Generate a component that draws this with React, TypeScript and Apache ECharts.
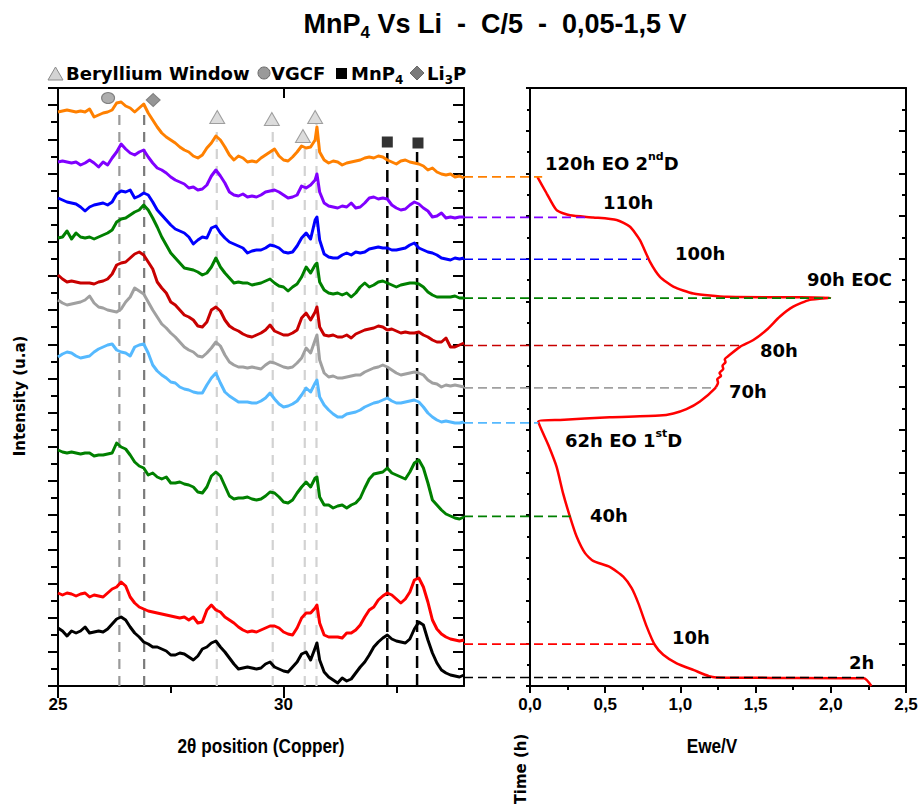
import React, { useEffect, useRef } from "react";
import * as echarts from "echarts";

// 2θ sampling positions (Copper radiation), degrees
const twoTheta = [
  25.0, 25.1, 25.2, 25.3, 25.4, 25.5, 25.6, 25.7, 25.8, 25.9,
  26.0, 26.1, 26.2, 26.3, 26.4, 26.5, 26.6, 26.7, 26.8, 26.9,
  27.0, 27.1, 27.2, 27.3, 27.4, 27.5, 27.6, 27.7, 27.8, 27.9,
  28.0, 28.1, 28.2, 28.3, 28.4, 28.5, 28.6, 28.7, 28.8, 28.9,
  29.0, 29.1, 29.2, 29.3, 29.4, 29.5, 29.6, 29.7, 29.8, 29.9,
  30.0, 30.1, 30.2, 30.3, 30.4, 30.5, 30.6, 30.7, 30.74, 30.8,
  30.9, 31.0, 31.1, 31.2, 31.3, 31.4, 31.5, 31.6, 31.7, 31.8,
  31.9, 32.0, 32.1, 32.2, 32.3, 32.4, 32.5, 32.6, 32.7, 32.8,
  32.9, 33.0, 33.1, 33.2, 33.3, 33.4, 33.5, 33.6, 33.7, 33.8,
  33.9, 34.0,
];

// Offset XRD intensities (a.u.), one array per time step
const xrd120h = [
  574, 575, 576, 575, 574, 575, 574, 577, 569, 571,
  573, 574, 576, 583, 584, 580, 578, 574, 578, 582,
  573, 566, 559, 553, 549, 546, 543, 539, 536, 534,
  530, 528, 531, 538, 543, 550, 546, 539, 531, 526,
  530, 528, 524, 525, 524, 528, 531, 534, 537, 530,
  526, 525, 529, 534, 540, 538, 539, 546, 559, 534,
  526, 523, 525, 524, 521, 523, 524, 525, 526, 528,
  529, 528, 530, 529, 526, 524, 522, 525, 526, 524,
  523, 522, 520, 516, 518, 514, 512, 511, 512, 509,
  510, 508,
];
const xrd110h = [
  524, 525, 524, 523, 524, 521, 523, 526, 523, 519,
  524, 521, 528, 534, 542, 537, 533, 531, 534, 536,
  529, 523, 518, 516, 513, 509, 506, 504, 502, 498,
  499, 496, 497, 501, 510, 516, 510, 503, 494, 491,
  490, 492, 489, 490, 489, 491, 494, 495, 496, 494,
  491, 488, 489, 491, 500, 498, 501, 506, 512, 494,
  483, 480, 479, 478, 480, 479, 483, 478, 479, 483,
  488, 489, 487, 488, 487, 481, 478, 476, 477, 481,
  484, 482, 478, 475, 469, 470, 473, 468, 469, 468,
  469, 469,
];
const xrd100h = [
  488, 486, 484, 483, 482, 479, 475, 479, 481, 482,
  483, 481, 484, 492, 495, 494, 496, 488, 490, 493,
  491, 484, 476, 471, 466, 461, 457, 455, 453, 449,
  442, 446, 449, 448, 458, 460, 453, 448, 444, 442,
  440, 438, 433, 435, 436, 436, 438, 441, 440, 438,
  434, 433, 434, 440, 448, 453, 447, 466, 469, 446,
  432, 429, 428, 428, 431, 433, 431, 434, 433, 434,
  437, 438, 439, 438, 438, 436, 436, 437, 438, 441,
  443, 438, 436, 434, 433, 431, 428, 427, 426, 428,
  427, 428,
];
const xrd90h = [
  448, 449, 455, 447, 453, 449, 448, 449, 447, 449,
  451, 453, 456, 464, 467, 468, 471, 474, 476, 481,
  476, 468, 459, 449, 441, 433, 428, 423, 418, 417,
  416, 414, 411, 413, 419, 428, 419, 413, 408, 403,
  404, 403, 403, 401, 402, 403, 405, 407, 403, 400,
  399, 395, 399, 402, 409, 419, 413, 421, 423, 404,
  396, 393, 392, 393, 391, 393, 389, 393, 399, 403,
  399, 401, 404, 405, 403, 401, 399, 401, 402, 403,
  403, 402, 399, 394, 391, 389, 389, 389, 389, 390,
  388, 388,
];
const xrd80h = [
  411, 407, 404, 405, 404, 403, 403, 403, 402, 404,
  405, 407, 412, 421, 423, 424, 428, 432, 434, 431,
  424, 417, 404, 398, 393, 384, 381, 376, 371, 369,
  366, 360, 359, 364, 376, 379, 375, 366, 360, 357,
  355, 352, 350, 349, 351, 353, 356, 361, 355, 353,
  351, 351, 353, 356, 368, 373, 366, 374, 379, 359,
  351, 350, 351, 349, 349, 351, 348, 352, 354, 356,
  357, 358, 360, 359, 356, 357, 355, 353, 354, 353,
  353, 354, 351, 349, 346, 344, 344, 348, 339, 339,
  341, 343,
];
const xrd70h = [
  386, 383, 381, 382, 383, 384, 386, 390, 383, 379,
  378, 376, 375, 374, 377, 384, 389, 398, 395, 392,
  384, 376, 369, 362, 358, 353, 349, 344, 339, 336,
  334, 330, 329, 333, 338, 344, 340, 331, 324, 321,
  319, 319, 318, 319, 318, 317, 321, 324, 323, 321,
  319, 318, 319, 323, 328, 338, 333, 346, 351, 326,
  313, 309, 310, 308, 308, 309, 310, 311, 311, 314,
  316, 318, 319, 321, 319, 316, 313, 311, 312, 313,
  314, 313, 311, 306, 303, 302, 299, 301, 300, 301,
  300, 299,
];
const xrd62h = [
  329, 332, 334, 333, 330, 328, 329, 330, 334, 337,
  339, 341, 342, 336, 334, 333, 330, 339, 341, 342,
  333, 321, 315, 311, 308, 304, 303, 299, 297, 296,
  294, 293, 293, 301, 308, 313, 303, 294, 290, 287,
  284, 284, 284, 283, 283, 285, 288, 293, 287, 282,
  279, 280, 282, 285, 291, 298, 294, 303, 306, 289,
  281, 276, 272, 269, 269, 272, 273, 274, 276, 279,
  281, 283, 284, 286, 288, 285, 283, 283, 284, 285,
  286, 284, 279, 273, 269, 266, 264, 265, 264, 263,
  263, 264,
];
const xrd40h = [
  236, 234, 233, 234, 233, 232, 233, 233, 230, 231,
  231, 232, 233, 243, 239, 237, 231, 224, 220, 218,
  211, 213, 209, 207, 209, 203, 203, 204, 202, 201,
  199, 194, 193, 199, 210, 214, 210, 200, 190, 187,
  188, 188, 189, 187, 186, 187, 190, 194, 193, 189,
  184, 183, 186, 193, 199, 204, 199, 208, 209, 189,
  181, 181, 178, 180, 181, 178, 181, 183, 188, 198,
  207, 212, 213, 214, 218, 213, 211, 209, 207, 214,
  223, 226, 218, 203, 186, 181, 176, 172, 170, 168,
  167, 169,
];
const xrd10h = [
  93, 91, 93, 92, 90, 92, 93, 89, 91, 90,
  89, 93, 97, 99, 104, 100, 89, 83, 79, 77,
  75, 74, 73, 72, 71, 70, 69, 68, 69, 66,
  69, 63, 64, 76, 81, 76, 74, 69, 66, 63,
  59, 56, 54, 55, 54, 56, 58, 60, 60, 58,
  54, 52, 51, 58, 68, 73, 73, 78, 81, 63,
  51, 49, 49, 49, 48, 53, 53, 56, 61, 69,
  76, 79, 86, 90, 93, 91, 87, 83, 87, 94,
  106, 108, 99, 84, 66, 57, 52, 49, 47, 46,
  45, 46,
];
const xrd2h = [
  58, 55, 50, 55, 53, 55, 59, 53, 54, 55,
  54, 57, 62, 67, 69, 66, 59, 53, 49, 44,
  42, 39, 39, 37, 35, 31, 31, 33, 32, 29,
  26, 30, 37, 39, 43, 45, 39, 34, 28, 22,
  17, 18, 19, 18, 17, 18, 22, 24, 19, 17,
  15, 14, 19, 24, 32, 34, 26, 38, 43, 26,
  14, 9, 6, 3, 8, 5, 7, 13, 19, 24,
  31, 39, 44, 48, 51, 47, 45, 44, 43, 47,
  57, 64, 61, 46, 33, 23, 16, 13, 11, 10,
  9, 11,
];

const xrdPatterns = [xrd120h, xrd110h, xrd100h, xrd90h, xrd80h, xrd70h, xrd62h, xrd40h, xrd10h, xrd2h];
const patternLabels = ["120h", "110h", "100h", "90h", "80h", "70h", "62h", "40h", "10h", "2h"];
const patternColors = ["#FF8000", "#8000FF", "#0000FF", "#008000", "#C80000", "#A0A0A0", "#55B9FF", "#008000", "#FF0000", "#000000"];

// time (h) of each pattern on the galvanostatic curve, and Ewe at that time
const patternTimes = [119.2, 109.7, 99.9, 90.8, 79.7, 69.8, 61.6, 39.7, 9.8, 2.0];
const patternEwe = [0.08, 0.37, 0.78, 2.0, 1.4, 1.24, 0.055, 0.27, 0.83, 2.22];
const connectorStartEwe = -0.44;

// Galvanostatic curve: Ewe (V) vs time (h)
const ecTime = [
  0, 1.8, 1.9, 2.0, 2.3, 3.7, 5.3, 7.3, 9.6, 13.9,
  19.4, 22.9, 25.6, 27.9, 29.3, 31.1, 35, 39.6, 45.1, 51.3,
  56.4, 61.9, 62.3, 62.9, 63.3, 63.8, 64.8, 66.6, 69.7, 71.0,
  71.8, 72.6, 73.3, 74.2, 75.0, 75.8, 76.5, 77.3, 79.4, 81,
  83.4, 86.5, 88.8, 90.4, 90.9, 91.0, 91.1, 91.9, 93.5, 95.8,
  99.3, 104.4, 107.5, 109.1, 109.7, 110.2, 111.4, 115.3, 119.2,
];
const ecVoltage = [
  2.27, 2.22, 1.6, 1.24, 1.19, 1.09, 0.975, 0.886, 0.83, 0.776,
  0.72, 0.676, 0.62, 0.53, 0.42, 0.366, 0.31, 0.266, 0.22, 0.177,
  0.122, 0.055, 0.2, 0.53, 0.86, 0.953, 1.04, 1.13, 1.23, 1.25,
  1.245, 1.27, 1.26, 1.285, 1.28, 1.3, 1.295, 1.32, 1.396, 1.485,
  1.574, 1.662, 1.75, 1.86, 1.995, 1.75, 1.31, 1.086, 0.953, 0.864,
  0.798, 0.731, 0.665, 0.576, 0.42, 0.266, 0.177, 0.111, 0.049,
];

// Reference reflection lines (2θ) and their heights
const refLinePos = [26.36, 26.91, 28.52, 29.76, 30.47, 30.73, 32.3, 32.96];
const refLineTop = [573, 574, 561, 562, 544, 562, 533, 534];
const refLineColors = ["#9a9a9a", "#7a7a7a", "#d2d2d2", "#d2d2d2", "#d2d2d2", "#d2d2d2", "#000000", "#000000"];

// Phase markers [2θ, height]
const vgcfMarks = [[26.11, 588]];
const li3pMarks = [[27.11, 586]];
const berylliumMarks = [[28.53, 569], [29.74, 567], [30.43, 550], [30.7, 569]];
const mnp4Marks = [[32.3, 544], [32.98, 543]];

// Axis ticks
const twoThetaMajorTicks = [25, 30];
const twoThetaMinorTicks = [27.5, 32.5];

function buildOption() {
  const DV = "'DejaVu Sans', sans-serif";
  const LIB = "'Liberation Sans', Arial, sans-serif";
  const tickSize = 17;
  const black = "#000";
  const tickLine = { color: black, width: 2 };
  const axLine = { show: true, onZero: false, lineStyle: { color: black, width: 2 } };

  const series: any[] = [];

  refLinePos.forEach((p, k) => {
    series.push({
      type: "line",
      xAxisIndex: 0,
      yAxisIndex: 0,
      data: [[p, 0], [p, refLineTop[k]]],
      symbol: "none",
      silent: true,
      z: 1,
      lineStyle: { color: refLineColors[k], width: k >= 6 ? 2.5 : 2.2, type: k >= 6 ? [12, 6] : [10, 7] },
    });
  });

  xrdPatterns.forEach((vals, k) => {
    series.push({
      type: "line",
      name: patternLabels[k],
      xAxisIndex: 0,
      yAxisIndex: 0,
      symbol: "none",
      z: 3,
      data: twoTheta.map((t, i) => [t, vals[i]]),
      lineStyle: { color: patternColors[k], width: 3, join: "round" },
    });
  });

  series.push(
    {
      type: "scatter", xAxisIndex: 0, yAxisIndex: 0, data: vgcfMarks, symbol: "circle",
      symbolSize: [13, 11], z: 6, clip: false,
      itemStyle: { color: "#9a9a9a", borderColor: "#6a6a6a", borderWidth: 1 },
    },
    {
      type: "scatter", xAxisIndex: 0, yAxisIndex: 0, data: li3pMarks, symbol: "diamond",
      symbolSize: [14, 13], z: 6, clip: false,
      itemStyle: { color: "#7a7a7a", borderColor: "#6a6a6a", borderWidth: 1 },
    },
    {
      type: "scatter", xAxisIndex: 0, yAxisIndex: 0, data: berylliumMarks, symbol: "triangle",
      symbolSize: [15, 13], z: 6, clip: false,
      itemStyle: { color: "#d3d3d3", borderColor: "#8a8a8a", borderWidth: 1 },
    },
    {
      type: "scatter", xAxisIndex: 0, yAxisIndex: 0, data: mnp4Marks, symbol: "rect",
      symbolSize: 11, z: 6, clip: false,
      itemStyle: { color: "#000" },
    }
  );

  series.push({
    type: "line",
    xAxisIndex: 4,
    yAxisIndex: 2,
    symbol: "none",
    smooth: 0.2,
    z: 3,
    data: ecVoltage.map((v, i) => [v, ecTime[i]]),
    lineStyle: { color: "#FF0000", width: 2.5 },
  });

  // connectors: drawn in a hidden grid spanning from the XRD panel's right edge to the right panel's end
  patternTimes.forEach((t, k) => {
    series.push({
      type: "line",
      xAxisIndex: 6,
      yAxisIndex: 4,
      clip: false,
      symbol: "none",
      z: 4,
      data: [[connectorStartEwe, t], [patternEwe[k], t]],
      lineStyle: { color: patternColors[k], width: 1.6, type: [9, 5] },
    });
  });

  const mainLabel = { fontFamily: DV, fontWeight: "bold", fontSize: 18, lineHeight: 24, fill: black };
  const supLabel = { fontFamily: DV, fontWeight: "bold", fontSize: 11, lineHeight: 12, verticalAlign: "top", fill: black };

  const annotations = [
    { t: "{a|120h EO 2}{s|nd}{a|D}", x: 545, y: 163 },
    { t: "{a|110h}", x: 603, y: 202 },
    { t: "{a|100h}", x: 675, y: 253 },
    { t: "{a|90h EOC}", x: 807, y: 279 },
    { t: "{a|80h}", x: 760, y: 350 },
    { t: "{a|70h}", x: 729, y: 391 },
    { t: "{a|62h EO 1}{s|st}{a|D}", x: 565, y: 440 },
    { t: "{a|40h}", x: 590, y: 515 },
    { t: "{a|10h}", x: 672, y: 637 },
    { t: "{a|2h}", x: 849, y: 662 },
  ];

  const legendText = { fontFamily: DV, fontWeight: "bold", fontSize: 18, lineHeight: 26, fill: black };
  const legendSub = { fontFamily: DV, fontWeight: "bold", fontSize: 12, lineHeight: 12, verticalAlign: "bottom", fill: black };

  const graphic: any[] = [
    {
      type: "text", x: 495, y: 24, z: 10,
      style: {
        text: "{a|MnP}{b|4}{a| Vs Li  -  C/5  -  0,05-1,5 V}",
        align: "center", verticalAlign: "middle",
        rich: {
          a: { fontFamily: LIB, fontWeight: "bold", fontSize: 27, lineHeight: 34, fill: black },
          b: { fontFamily: LIB, fontWeight: "bold", fontSize: 17, lineHeight: 17, verticalAlign: "bottom", fill: black },
        },
      },
    },
    { type: "polygon", z: 10, shape: { points: [[48, 80], [63, 80], [55.5, 67]] }, style: { fill: "#d3d3d3", stroke: "#8a8a8a", lineWidth: 1 } },
    { type: "text", x: 66, y: 73, z: 10, style: { text: "{a|Beryllium Window}", verticalAlign: "middle", align: "left", rich: { a: legendText } } },
    { type: "circle", z: 10, shape: { cx: 264, cy: 73, r: 6 }, style: { fill: "#9a9a9a", stroke: "#6a6a6a", lineWidth: 1 } },
    { type: "text", x: 271, y: 73, z: 10, style: { text: "{a|VGCF}", verticalAlign: "middle", align: "left", rich: { a: legendText } } },
    { type: "rect", z: 10, shape: { x: 336, y: 68, width: 11, height: 11 }, style: { fill: "#000" } },
    { type: "text", x: 351, y: 73, z: 10, style: { text: "{a|MnP}{b|4}", verticalAlign: "middle", align: "left", rich: { a: legendText, b: legendSub } } },
    { type: "polygon", z: 10, shape: { points: [[417, 66], [424, 73], [417, 80], [410, 73]] }, style: { fill: "#7a7a7a", stroke: "#6a6a6a", lineWidth: 1 } },
    { type: "text", x: 427, y: 73, z: 10, style: { text: "{a|Li}{b|3}{a|P}", verticalAlign: "middle", align: "left", rich: { a: legendText, b: legendSub } } },
    {
      type: "text", x: 20, y: 396, rotation: Math.PI / 2, z: 10,
      style: { text: "Intensity (u.a)", fontFamily: DV, fontWeight: "bold", fontSize: 15, fill: black, align: "center", verticalAlign: "middle" },
    },
    {
      type: "text", x: 521, y: 769, rotation: Math.PI / 2, z: 10,
      style: { text: "Time (h)", fontFamily: DV, fontWeight: "bold", fontSize: 15, fill: black, align: "center", verticalAlign: "middle" },
    },
    {
      type: "text", x: 261, y: 746, z: 10, scaleX: 0.82,
      style: { text: "2θ position (Copper)", fontFamily: LIB, fontWeight: "bold", fontSize: 21, fill: black, align: "center", verticalAlign: "middle" },
    },
    {
      type: "text", x: 712, y: 746, z: 10, scaleX: 0.82,
      style: { text: "Ewe/V", fontFamily: LIB, fontWeight: "bold", fontSize: 21, fill: black, align: "center", verticalAlign: "middle" },
    },
    ...annotations.map((a) => ({
      type: "text", x: a.x, y: a.y, z: 10,
      style: { text: a.t, align: "left", verticalAlign: "middle", rich: { a: mainLabel, s: supLabel } },
    })),
  ];

  const leftInterval = 598 / 17.5;
  const hidden = { show: false };

  return {
    animation: false,
    backgroundColor: "#fff",
    textStyle: { fontFamily: LIB },
    grid: [
      { left: 58, top: 88, width: 406, height: 598, containLabel: false },
      { left: 530, top: 88, width: 376, height: 598, containLabel: false },
      { left: 464, top: 88, width: 442, height: 598, containLabel: false },
    ],
    xAxis: [
      {
        gridIndex: 0, type: "value", min: 25, max: 34, position: "bottom",
        axisLine: axLine,
        axisTick: { show: true, inside: false, length: 12, lineStyle: tickLine, customValues: twoThetaMajorTicks },
        axisLabel: {
          show: true, customValues: twoThetaMajorTicks, margin: 10, color: black,
          fontFamily: LIB, fontWeight: "bold", fontSize: tickSize,
          formatter: (v: number) => String(v),
        },
        splitLine: { show: false },
      },
      {
        gridIndex: 0, type: "value", min: 25, max: 34, position: "bottom",
        axisLine: { show: false },
        axisTick: { show: true, inside: false, length: 7, lineStyle: tickLine, customValues: twoThetaMinorTicks },
        axisLabel: { show: false },
        splitLine: { show: false },
      },
      {
        gridIndex: 0, type: "value", min: 25, max: 34, position: "top",
        axisLine: axLine,
        axisTick: { show: true, inside: true, length: 10, lineStyle: tickLine, customValues: twoThetaMajorTicks },
        axisLabel: { show: false },
        splitLine: { show: false },
      },
      {
        gridIndex: 0, type: "value", min: 25, max: 34, position: "top",
        axisLine: { show: false },
        axisTick: { show: true, inside: true, length: 4, lineStyle: tickLine, customValues: twoThetaMinorTicks },
        axisLabel: { show: false },
        splitLine: { show: false },
      },
      {
        gridIndex: 1, type: "value", min: 0, max: 2.5, interval: 0.5, position: "bottom",
        axisLine: axLine,
        axisTick: { show: true, inside: false, length: 7, lineStyle: tickLine },
        minorTick: { show: true, splitNumber: 2, length: 4, lineStyle: tickLine },
        axisLabel: {
          show: true, margin: 10, color: black, fontFamily: LIB, fontWeight: "bold", fontSize: tickSize,
          formatter: (v: number) => v.toFixed(1).replace(".", ","),
        },
        splitLine: { show: false },
      },
      {
        gridIndex: 1, type: "value", min: 0, max: 2.5, interval: 0.5, position: "top",
        axisLine: axLine,
        axisTick: { show: false },
        axisLabel: { show: false },
        splitLine: { show: false },
      },
      {
        gridIndex: 2, type: "value", min: connectorStartEwe, max: 2.5, position: "bottom",
        axisLine: hidden, axisTick: hidden, axisLabel: hidden, splitLine: hidden,
      },
    ],
    yAxis: [
      {
        gridIndex: 0, type: "value", min: 0, max: 598, interval: leftInterval, position: "left",
        axisLine: axLine,
        axisTick: { show: true, inside: false, length: 10, lineStyle: tickLine },
        minorTick: { show: true, splitNumber: 2, length: 7, lineStyle: tickLine },
        axisLabel: { show: false },
        splitLine: { show: false },
      },
      {
        gridIndex: 0, type: "value", min: 0, max: 598, interval: leftInterval, position: "right",
        axisLine: axLine,
        axisTick: { show: true, inside: true, length: 11, lineStyle: tickLine },
        minorTick: { show: true, splitNumber: 2, length: 6, lineStyle: tickLine },
        axisLabel: { show: false },
        splitLine: { show: false },
      },
      {
        gridIndex: 1, type: "value", min: 0, max: 140, interval: 10, position: "left",
        axisLine: axLine,
        axisTick: { show: true, inside: false, length: 4, lineStyle: tickLine },
        minorTick: { show: true, splitNumber: 2, length: 3, lineStyle: tickLine },
        axisLabel: { show: false },
        splitLine: { show: false },
      },
      {
        gridIndex: 1, type: "value", min: 0, max: 140, interval: 10, position: "right",
        axisLine: axLine,
        axisTick: { show: true, inside: true, length: 7, lineStyle: tickLine },
        minorTick: { show: true, splitNumber: 2, length: 4, lineStyle: tickLine },
        axisLabel: { show: false },
        splitLine: { show: false },
      },
      {
        gridIndex: 2, type: "value", min: 0, max: 140, position: "left",
        axisLine: hidden, axisTick: hidden, axisLabel: hidden, splitLine: hidden,
      },
    ],
    graphic,
    series,
  };
}

export default function App() {
  const ref = useRef<HTMLDivElement>(null);
  useEffect(() => {
    document.body.style.margin = "0";
    const chart = echarts.init(ref.current!, undefined, { renderer: "svg" });
    chart.setOption(buildOption() as any);
    return () => {
      chart.dispose();
    };
  }, []);
  return <div ref={ref} style={{ width: 921, height: 804, background: "#fff" }} />;
}
